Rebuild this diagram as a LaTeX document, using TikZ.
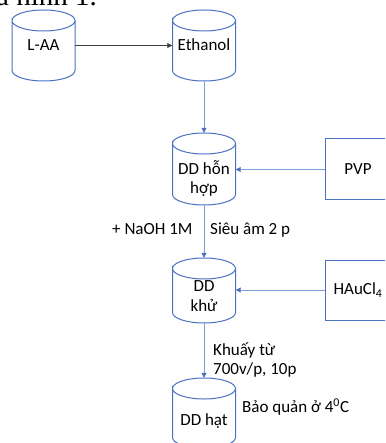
\documentclass[tikz,border=0pt]{standalone}
\usepackage{fontspec}
\setmainfont{Carlito}
\newfontfamily\serifdoc{Liberation Serif}
\usetikzlibrary{arrows.meta}
\definecolor{cylblue}{HTML}{4A72C0}
\definecolor{linkblue}{HTML}{7E9DD8}
\definecolor{darkline}{HTML}{404040}

\newcommand\drawcyl[4]{% name, cx, top, bottom
  \node[cylnode, minimum height={#4-#3}] (#1) at (#2,{-(#3+#4)/2}) {};
  \draw[cylline] (#2-31.5,-#3-10.5) arc[start angle=180,end angle=-180,x radius=31.5,y radius=10.5]
    -- (#2-31.5,-#4+10.5) arc[start angle=180,end angle=360,x radius=31.5,y radius=10.5]
    -- (#2+31.5,-#3-10.5);
}

\begin{document}
\begin{tikzpicture}[x=1pt,y=1pt,
  cylnode/.style={draw=none,minimum width=63pt,inner sep=0pt},
  cylline/.style={draw=cylblue,line width=1pt},
  boxnode/.style={draw=cylblue,line width=1pt,minimum width=66pt,inner sep=0pt,
     font=\fontsize{17}{20}\selectfont},
  lbl/.style={font=\fontsize{17}{20}\selectfont,inner sep=0pt,anchor=base west},
  clbl/.style={font=\fontsize{17}{20}\selectfont,inner sep=0pt,anchor=base},
  bluearrow/.style={draw=linkblue,line width=0.8pt,-{Triangle[length=5pt,width=5pt,color=cylblue]}},
  darkarrow/.style={draw=darkline,line width=0.8pt,-{Triangle[length=5pt,width=5pt]}}
]
\useasboundingbox (0,0) rectangle (385,-443);
\clip (0,0) rectangle (385,-443);

% caption fragment at the top (clipped)
\node[font=\serifdoc\fontsize{29}{34}\selectfont,anchor=base west,inner sep=0pt] (cap) at (-4,-5.5) {a hình 1.};

% cylinders
\drawcyl{laa}{43.5}{10}{81}
\drawcyl{eth}{204}{10}{81}
\drawcyl{hh}{204}{133}{205}
\drawcyl{khu}{204}{258}{323}
\drawcyl{hat}{204}{378}{448}

% texts in cylinders
\node[clbl] (tlaa) at (43.5,-51) {L-AA};
\node[clbl] (teth) at (204,-51) {Ethanol};
\node[clbl] (thh1) at (204,-175) {DD hỗn};
\node[clbl] (thh2) at (204,-193.5) {hợp};
\node[clbl] (tkhu1) at (204,-291.5) {DD};
\node[clbl] (tkhu2) at (204,-311.5) {khử};
\node[clbl] (that) at (204,-425) {DD hạt};

% boxes
\node[boxnode,minimum height=61pt] (pvp) at (358,-169.5) {PVP};
\node[boxnode,minimum height=60pt] (hau) at (358,-290) {HAuCl\textsubscript{4}};

% side labels
\node[lbl] (naoh) at (112,-234) {+ NaOH 1M};
\node[lbl] (sieu) at (210,-234) {Siêu âm 2 p};
\node[lbl] (khuay1) at (213,-355) {Khuấy từ};
\node[lbl] (khuay2) at (213,-374) {700v/p, 10p};
\node[lbl] (bq) at (242,-412.5) {Bảo quản ở 4\textsuperscript{0}C};

% connectors
\draw[darkarrow] (laa.east) -- (eth.west);
\draw[bluearrow] (eth.south) -- (hh.north);
\draw[bluearrow] (pvp.west) -- (pvp.west -| hh.east);
\draw[bluearrow] (hh.south) -- (khu.north);
\draw[bluearrow] (hau.west) -- (hau.west -| khu.east);
\draw[bluearrow] (khu.south) -- (hat.north);
\end{tikzpicture}
\end{document}
